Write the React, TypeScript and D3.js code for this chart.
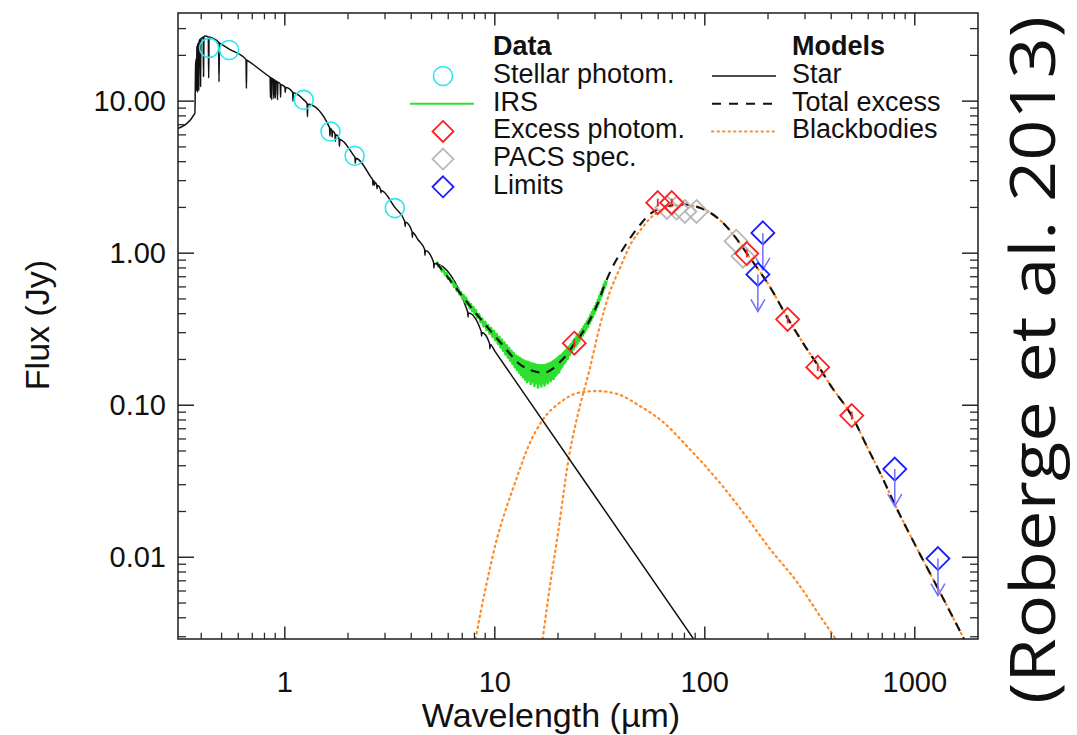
import React from "react";
import * as d3 from "d3";

const W = 1077;
const H = 735;
const M = { left: 178, right: 978, top: 13, bottom: 639 };

const xDomain: [number, number] = [0.31, 2000];
const yDomain: [number, number] = [0.0029, 38];

const xTickValues = [1, 10, 100, 1000];
const xTickLabels = ["1", "10", "100", "1000"];
const yTickValues = [10, 1, 0.1, 0.01];
const yTickLabels = ["10.00", "1.00", "0.10", "0.01"];

// Stellar model continuum [wavelength µm, flux Jy]
const starContinuum: [number, number][] = [
  [0.31, 6.6], [0.373, 8.3], [0.376, 17], [0.382, 23], [0.395, 25.5], [0.416, 26.8],
  [0.44, 26.3], [0.49, 24.1], [0.543, 22], [0.66, 18.6], [0.85, 14.4], [1.0, 12.4],
  [1.23, 10.2], [1.65, 6.6], [2.15, 4.3], [2.62, 3.05], [3.34, 2.0], [4.3, 1.23],
  [10, 0.227], [30, 0.0252], [100, 0.00227],
];
// Stellar absorption lines [wavelength µm, flux at line core]
const starLines: [number, number][] = [
  [0.3797, 11.8], [0.3835, 11.5], [0.3889, 11.8], [0.397, 12.5], [0.4102, 14.5],
  [0.434, 14.2], [0.4861, 13.4], [0.6563, 12.1], [0.8545, 10.5], [0.8665, 10.2],
  [0.8863, 10.4], [0.9015, 10.5], [0.9229, 10.2], [0.9546, 10.6], [1.005, 11.4],
  [1.094, 10.0], [1.282, 7.9], [1.64, 5.9], [1.68, 5.8], [1.74, 5.45], [1.82, 5.05],
  [2.166, 3.9], [2.63, 2.8], [2.67, 2.8], [2.75, 2.65], [2.87, 2.5], [3.74, 1.5],
  [4.05, 1.27], [4.65, 0.97], [5.13, 0.8], [7.46, 0.38], [8.65, 0.285], [9.48, 0.235],
];

// Spitzer IRS spectrum [wavelength µm, flux Jy]
const irsSpectrum: [number, number][] = [
  [5.3, 0.88], [5.4, 0.82], [5.5, 0.82], [5.6, 0.76], [5.7, 0.78], [5.8, 0.72], [5.9, 0.74],
  [6.0, 0.68], [6.1, 0.69], [6.2, 0.64], [6.3, 0.66], [6.4, 0.6], [6.5, 0.62], [6.6, 0.565],
  [6.7, 0.59], [6.8, 0.535], [6.9, 0.555], [7.0, 0.505], [7.1, 0.53], [7.2, 0.48], [7.3, 0.51],
  [7.4, 0.46], [7.5, 0.48], [7.6, 0.435], [7.7, 0.462], [7.8, 0.417], [7.9, 0.442], [8.0, 0.4],
  [8.1, 0.423], [8.25, 0.378], [8.4, 0.398], [8.55, 0.353], [8.7, 0.372], [8.85, 0.33],
  [9.0, 0.353], [9.15, 0.312], [9.3, 0.336], [9.45, 0.296], [9.6, 0.322], [9.75, 0.282],
  [9.9, 0.308], [10.05, 0.268], [10.2, 0.294], [10.35, 0.253], [10.5, 0.282], [10.65, 0.24],
  [10.8, 0.27], [10.95, 0.228], [11.1, 0.258], [11.25, 0.216], [11.4, 0.248], [11.55, 0.206],
  [11.7, 0.238], [11.85, 0.196], [12.0, 0.228], [12.15, 0.187], [12.3, 0.22], [12.45, 0.178],
  [12.6, 0.212], [12.75, 0.171], [12.9, 0.208], [13.05, 0.164], [13.2, 0.204], [13.35, 0.158],
  [13.5, 0.2], [13.65, 0.153], [13.8, 0.197], [13.95, 0.148], [14.1, 0.194], [14.25, 0.142],
  [14.4, 0.193], [14.55, 0.146], [14.7, 0.19], [14.85, 0.138], [15.0, 0.188], [15.15, 0.142],
  [15.3, 0.187], [15.45, 0.134], [15.6, 0.185], [15.75, 0.14], [15.9, 0.184], [16.05, 0.131],
  [16.2, 0.183], [16.35, 0.139], [16.5, 0.183], [16.65, 0.133], [16.8, 0.183], [16.95, 0.141],
  [17.1, 0.183], [17.25, 0.135], [17.4, 0.184], [17.55, 0.143], [17.7, 0.185], [17.85, 0.139],
  [18.0, 0.187], [18.15, 0.146], [18.3, 0.189], [18.45, 0.144], [18.6, 0.191], [18.75, 0.15],
  [18.9, 0.194], [19.05, 0.149], [19.2, 0.197], [19.35, 0.155], [19.5, 0.2], [19.65, 0.158],
  [19.8, 0.203], [19.95, 0.163], [20.1, 0.207], [20.25, 0.165], [20.4, 0.211], [20.6, 0.173],
  [20.8, 0.215], [21.0, 0.18], [21.2, 0.221], [21.4, 0.188], [21.6, 0.227], [21.8, 0.194],
  [22.0, 0.232], [22.25, 0.202], [22.5, 0.242], [22.75, 0.214], [23.0, 0.252], [23.25, 0.224],
  [23.5, 0.262], [23.75, 0.234], [24.0, 0.273], [24.25, 0.244], [24.5, 0.283], [24.75, 0.254],
  [25.0, 0.293], [25.25, 0.264], [25.5, 0.303], [25.75, 0.276], [26.0, 0.316], [26.25, 0.288],
  [26.5, 0.329], [26.75, 0.3], [27.0, 0.342], [27.25, 0.314], [27.5, 0.357], [27.75, 0.328],
  [28.0, 0.372], [28.25, 0.344], [28.5, 0.39], [28.75, 0.36], [29.0, 0.408], [29.25, 0.379],
  [29.5, 0.428], [29.75, 0.399], [30.0, 0.448], [30.25, 0.419], [30.5, 0.47], [30.75, 0.444],
  [31.0, 0.494], [31.25, 0.466], [31.5, 0.524], [31.75, 0.494], [32.0, 0.555], [32.25, 0.524],
  [32.5, 0.585], [32.75, 0.554], [33.0, 0.62], [33.25, 0.59], [33.5, 0.65], [33.75, 0.62],
  [34.0, 0.66],
];

// Total model (star + blackbodies)
const totalExcess: [number, number][] = [
  [5.27, 0.865], [6, 0.688], [7, 0.523], [8, 0.413], [9, 0.34], [10, 0.285], [11, 0.245],
  [12, 0.212], [13, 0.188], [14, 0.176], [15.2, 0.168], [16.5, 0.164], [17.6, 0.165],
  [19, 0.175], [20.4, 0.192], [22, 0.215], [23.5, 0.245], [25.5, 0.285], [27.3, 0.331],
  [29, 0.385], [30.5, 0.447], [32, 0.53], [33.4, 0.623], [36.5, 0.82], [40, 1.02],
  [45.2, 1.32], [50, 1.58], [54.6, 1.8], [60, 1.95], [65.8, 2.04], [70, 2.07], [78.5, 2.1],
  [90, 2.04], [100, 1.93], [120, 1.62], [140, 1.27], [160, 0.98], [180, 0.78], [200, 0.63],
  [250, 0.367], [300, 0.245], [350, 0.178], [400, 0.133], [500, 0.0855], [600, 0.0515],
  [700, 0.0335], [800, 0.0225], [1000, 0.0122], [1300, 0.0061], [1600, 0.0035], [2000, 0.0019],
];
// Cold blackbody
const coldBlackbody: [number, number][] = [
  [16.9, 0.0029], [18, 0.0055], [20, 0.0145], [22.8, 0.05], [25, 0.09], [28.2, 0.17],
  [31.6, 0.33], [35.2, 0.55], [39.3, 0.79], [45.2, 1.2], [50, 1.45], [55, 1.7], [60, 1.87],
  [66, 2.0], [78, 2.08], [90, 2.03], [100, 1.93], [120, 1.62], [140, 1.27], [160, 0.98],
  [180, 0.78], [200, 0.63], [250, 0.367], [300, 0.245], [350, 0.178], [400, 0.133],
  [500, 0.0855], [600, 0.0515], [700, 0.0335], [800, 0.0225], [1000, 0.0122], [1300, 0.0061],
  [1600, 0.0035], [2000, 0.0019],
];
// Warm blackbody
const warmBlackbody: [number, number][] = [
  [8.1, 0.0029], [8.6, 0.0045], [9.3, 0.0075], [10.2, 0.013], [11.2, 0.02], [12.5, 0.031],
  [14.4, 0.053], [16.9, 0.08], [20.4, 0.104], [25.3, 0.121], [30.6, 0.124], [38, 0.119],
  [49, 0.099], [63, 0.078], [82, 0.054], [120, 0.03], [160, 0.018], [200, 0.0118],
  [281, 0.0066], [350, 0.0042], [420, 0.0029],
];

const stellarPhotom: [number, number][] = [
  [0.436, 22.4], [0.543, 21.7], [1.23, 10.2], [1.65, 6.31], [2.15, 4.37], [3.34, 1.98],
];
const excessPhotom: [number, number][] = [
  [23.9, 0.256], [59.7, 2.15], [69.6, 2.15], [158.5, 0.995], [248, 0.367], [345, 0.178], [501, 0.0855],
];
const pacsSpec: [number, number][] = [
  [66, 2.0], [73.3, 1.98], [80.3, 1.88], [91.3, 1.88], [141, 1.2], [152, 0.955],
];
const limitPoints: [number, number][] = [
  [189, 1.36], [179, 0.725], [803, 0.038], [1289, 0.0098],
];

const dataLegend = ["Stellar photom.", "IRS", "Excess photom.", "PACS spec.", "Limits"];
const modelLegend = ["Star", "Total excess", "Blackbodies"];

const FONT = "'Liberation Sans', Arial, Helvetica, sans-serif";
const C_CYAN = "#2fe6ee";
const C_GREEN = "#2ee02e";
const C_RED = "#ff1f1f";
const C_GREY = "#b8b8b8";
const C_BLUE = "#1a1aff";
const C_ARROW = "#6f6fff";
const C_ORANGE = "#ff8c26";

function diamondPath(cx: number, cy: number, r: number) {
  return `M${cx},${cy - r}L${cx + r},${cy}L${cx},${cy + r}L${cx - r},${cy}Z`;
}

export default function App() {
  const x = d3.scaleLog().domain(xDomain).range([M.left, M.right]);
  const y = d3.scaleLog().domain(yDomain).range([M.bottom, M.top]);

  const line = d3
    .line<[number, number]>()
    .x((d) => x(d[0]))
    .y((d) => y(d[1]))
    .curve(d3.curveMonotoneX);
  const lineLin = d3
    .line<[number, number]>()
    .x((d) => x(d[0]))
    .y((d) => y(d[1]));

  // star model: continuum + narrow absorption lines
  const logCont = d3
    .scaleLinear()
    .domain(starContinuum.map((d) => Math.log10(d[0])))
    .range(starContinuum.map((d) => Math.log10(d[1])));
  const cont = (l: number) => Math.pow(10, logCont(Math.log10(l)));
  const starPts: [number, number][] = starContinuum.slice();
  starLines.forEach(([l, f]) => {
    const dl = 0.0018;
    const a = l * Math.pow(10, -dl);
    const b = l * Math.pow(10, dl);
    starPts.push([a, cont(a)], [l, f], [b, cont(b)]);
  });
  starPts.sort((p, q) => p[0] - q[0]);

  // ticks
  const xMinor: number[] = [];
  [0.1, 1, 10, 100, 1000].forEach((d) => {
    for (let k = 2; k <= 9; k++) {
      const v = k * d;
      if (v > xDomain[0] && v < xDomain[1]) xMinor.push(v);
    }
  });
  const yMinor: number[] = [];
  [0.001, 0.01, 0.1, 1, 10].forEach((d) => {
    for (let k = 2; k <= 9; k++) {
      const v = k * d;
      if (v > yDomain[0] && v < yDomain[1]) yMinor.push(v);
    }
  });
  const xMajLen = 12.5;
  const xMinLen = 6.3;
  const yMajLen = 16;
  const yMinLen = 8;

  const legendRowY = (i: number) => 83 + i * 27.7;

  return (
    <div style={{ position: "absolute", left: 0, top: 0 }}>
      <svg width={W} height={H} viewBox={`0 0 ${W} ${H}`} style={{ display: "block", background: "#fff" }}>
        <defs>
          <clipPath id="plotClip">
            <rect x={M.left} y={M.top} width={M.right - M.left} height={M.bottom - M.top} />
          </clipPath>
        </defs>

        <g clipPath="url(#plotClip)">
          {/* blackbodies */}
          <path d={line(warmBlackbody) || ""} fill="none" stroke={C_ORANGE} strokeWidth={2.2}
            strokeDasharray="1.5,4" strokeLinecap="round" />
          <path d={line(coldBlackbody) || ""} fill="none" stroke={C_ORANGE} strokeWidth={2.2}
            strokeDasharray="1.5,4" strokeLinecap="round" />
          {/* star */}
          <path d={line(starPts) || ""} fill="none" stroke="#111" strokeWidth={1.5} strokeLinejoin="round" />
          {/* IRS */}
          <path d={lineLin(irsSpectrum) || ""} fill="none" stroke={C_GREEN} strokeWidth={2.6} strokeLinejoin="round" />
          {/* total excess */}
          <path d={line(totalExcess) || ""} fill="none" stroke="#111" strokeWidth={2.1}
            strokeDasharray="9,7" />
        </g>

        {/* stellar photometry */}
        {stellarPhotom.map((d, i) => (
          <circle key={"sp" + i} cx={x(d[0])} cy={y(d[1])} r={9.5} fill="none" stroke={C_CYAN} strokeWidth={1.6} />
        ))}
        {/* PACS spec */}
        {pacsSpec.map((d, i) => (
          <path key={"pc" + i} d={diamondPath(x(d[0]), y(d[1]), 11.5)} fill="none" stroke={C_GREY} strokeWidth={1.8} />
        ))}
        {/* excess photometry */}
        {excessPhotom.map((d, i) => (
          <g key={"ex" + i}>
            <path d={diamondPath(x(d[0]), y(d[1]), 11.5)} fill="none" stroke={C_RED} strokeWidth={1.8} />
            <line x1={x(d[0])} x2={x(d[0])} y1={y(d[1]) - 4} y2={y(d[1]) + 4} stroke={C_RED} strokeWidth={1.8} />
          </g>
        ))}
        {/* limits */}
        {limitPoints.map((d, i) => {
          const cx = x(d[0]);
          const cy = y(d[1]);
          const ey = cy + 37;
          return (
            <g key={"lim" + i}>
              <path d={diamondPath(cx, cy, 11.5)} fill="none" stroke={C_BLUE} strokeWidth={1.8} />
              <line x1={cx} x2={cx} y1={cy} y2={ey} stroke={C_ARROW} strokeWidth={1.5} />
              <path d={`M${cx - 7},${ey - 12}L${cx},${ey}L${cx + 7},${ey - 12}`} fill="none" stroke={C_ARROW} strokeWidth={1.5} />
            </g>
          );
        })}

        {/* frame */}
        <rect x={M.left} y={M.top} width={M.right - M.left} height={M.bottom - M.top}
          fill="none" stroke="#2a2a2a" strokeWidth={1.6} />

        {/* x ticks bottom & top */}
        {xTickValues.map((v) => (
          <g key={"xM" + v}>
            <line x1={x(v)} x2={x(v)} y1={M.bottom} y2={M.bottom - xMajLen} stroke="#2a2a2a" strokeWidth={1.5} />
            <line x1={x(v)} x2={x(v)} y1={M.top} y2={M.top + xMajLen} stroke="#2a2a2a" strokeWidth={1.5} />
          </g>
        ))}
        {xMinor.map((v) => (
          <g key={"xm" + v}>
            <line x1={x(v)} x2={x(v)} y1={M.bottom} y2={M.bottom - xMinLen} stroke="#2a2a2a" strokeWidth={1.3} />
            <line x1={x(v)} x2={x(v)} y1={M.top} y2={M.top + xMinLen} stroke="#2a2a2a" strokeWidth={1.3} />
          </g>
        ))}
        {/* y ticks left & right */}
        {yTickValues.map((v) => (
          <g key={"yM" + v}>
            <line x1={M.left} x2={M.left + yMajLen} y1={y(v)} y2={y(v)} stroke="#2a2a2a" strokeWidth={1.5} />
            <line x1={M.right} x2={M.right - yMajLen} y1={y(v)} y2={y(v)} stroke="#2a2a2a" strokeWidth={1.5} />
          </g>
        ))}
        {yMinor.map((v) => (
          <g key={"ym" + v}>
            <line x1={M.left} x2={M.left + yMinLen} y1={y(v)} y2={y(v)} stroke="#2a2a2a" strokeWidth={1.3} />
            <line x1={M.right} x2={M.right - yMinLen} y1={y(v)} y2={y(v)} stroke="#2a2a2a" strokeWidth={1.3} />
          </g>
        ))}

        {/* tick labels */}
        {xTickValues.map((v, i) => (
          <text key={"xl" + v} x={x(v)} y={692} textAnchor="middle" fontFamily={FONT} fontSize={29} fill="#111">
            {xTickLabels[i]}
          </text>
        ))}
        {yTickValues.map((v, i) => (
          <text key={"yl" + v} x={166} y={y(v) + 10} textAnchor="end" fontFamily={FONT} fontSize={29} fill="#111">
            {yTickLabels[i]}
          </text>
        ))}

        {/* axis titles */}
        <text x={551} y={727} textAnchor="middle" fontFamily={FONT} fontSize={34} fill="#111">
          Wavelength (µm)
        </text>
        <text transform={`translate(49,325) rotate(-90)`} textAnchor="middle"
          fontFamily={FONT} fontSize={34} fill="#111">
          Flux (Jy)
        </text>

        {/* legend: data */}
        <text x={493} y={55} fontFamily={FONT} fontSize={27} fontWeight="bold" fill="#111">Data</text>
        {dataLegend.map((t, i) => (
          <text key={"dl" + i} x={493} y={legendRowY(i)} fontFamily={FONT} fontSize={27} fill="#111">{t}</text>
        ))}
        <circle cx={443} cy={legendRowY(0) - 7} r={9.5} fill="none" stroke={C_CYAN} strokeWidth={1.6} />
        <line x1={410} x2={474} y1={legendRowY(1) - 7} y2={legendRowY(1) - 7} stroke={C_GREEN} strokeWidth={2} />
        <path d={diamondPath(443, legendRowY(2) - 7, 10.5)} fill="none" stroke={C_RED} strokeWidth={1.8} />
        <path d={diamondPath(443, legendRowY(3) - 7, 10.5)} fill="none" stroke={C_GREY} strokeWidth={1.8} />
        <path d={diamondPath(443, legendRowY(4) - 7, 10.5)} fill="none" stroke={C_BLUE} strokeWidth={1.8} />

        {/* legend: models */}
        <text x={792} y={55} fontFamily={FONT} fontSize={27} fontWeight="bold" fill="#111">Models</text>
        {modelLegend.map((t, i) => (
          <text key={"ml" + i} x={792} y={legendRowY(i)} fontFamily={FONT} fontSize={27} fill="#111">{t}</text>
        ))}
        <line x1={712} x2={776} y1={legendRowY(0) - 7} y2={legendRowY(0) - 7} stroke="#111" strokeWidth={1.6} />
        <line x1={712} x2={776} y1={legendRowY(1) - 7} y2={legendRowY(1) - 7} stroke="#111" strokeWidth={2}
          strokeDasharray="9,8" />
        <line x1={712} x2={776} y1={legendRowY(2) - 7} y2={legendRowY(2) - 7} stroke={C_ORANGE} strokeWidth={2}
          strokeDasharray="1.5,4" strokeLinecap="round" />

        {/* citation */}
        <text transform={`translate(1055,360) rotate(-90)`} textAnchor="middle"
          fontFamily="'Open Sans', 'Noto Sans', sans-serif" fontSize={62} textLength={688}
          lengthAdjust="spacingAndGlyphs" fill="#111">
          (Roberge et al. 2013)
        </text>
      </svg>
    </div>
  );
}
